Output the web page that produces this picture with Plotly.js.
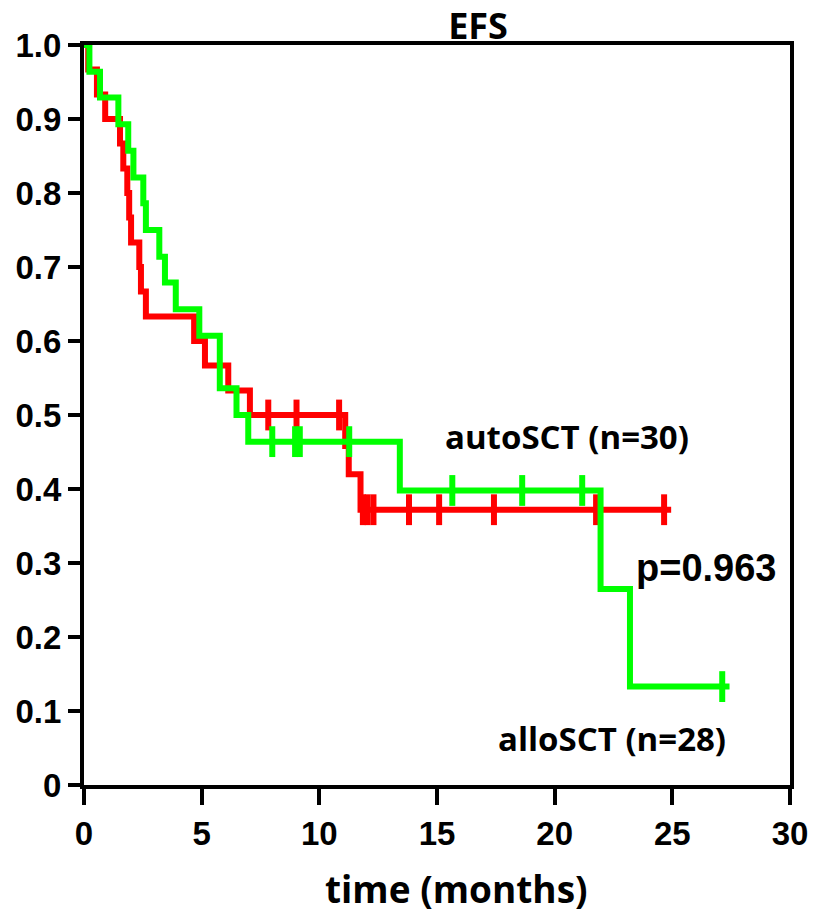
<!DOCTYPE html>
<html>
<head>
<meta charset="utf-8">
<script src="https://cdn.plot.ly/plotly-3.0.1.min.js"></script>
<style>
  html, body { margin: 0; padding: 0; background: #ffffff; }
  #chart { width: 813px; height: 916px; }
</style>
</head>
<body>
<div id="chart"></div>
<script>
// autoSCT (n=30) - red Kaplan-Meier curve
const autoTimes = [0, 0.18, 0.55, 0.9, 1.53, 1.67, 1.84, 1.92, 2.0, 2.35, 2.42, 2.63, 4.68, 5.14, 6.13, 7.05, 11.1, 11.25, 11.75, 24.95];
const autoSurv  = [1.0, 0.967, 0.933, 0.9, 0.867, 0.833, 0.8, 0.767, 0.733, 0.7, 0.667, 0.633, 0.6, 0.567, 0.533, 0.5, 0.458, 0.42, 0.372, 0.372];
const autoCensor = [7.83, 9.03, 10.84, 11.85, 12.05, 12.3, 13.81, 15.09, 17.42, 21.76, 24.65];

// alloSCT (n=28) - green Kaplan-Meier curve
const alloTimes = [0, 0.23, 0.68, 1.46, 1.88, 2.1, 2.52, 2.63, 3.2, 3.44, 3.9, 4.9, 5.77, 6.48, 6.98, 13.42, 21.95, 23.2, 27.43];
const alloSurv  = [1.0, 0.964, 0.929, 0.893, 0.857, 0.821, 0.786, 0.75, 0.714, 0.679, 0.643, 0.607, 0.536, 0.5, 0.464, 0.398, 0.265, 0.133, 0.133];
const alloCensor = [8.0, 8.97, 9.17, 11.27, 15.65, 18.62, 21.17, 27.12];

// axis ticks
const xTickVals = [0, 5, 10, 15, 20, 25, 30];
const yTickVals = [0, 0.1, 0.2, 0.3, 0.4, 0.5, 0.6, 0.7, 0.8, 0.9, 1.0];
const yTickText = ['0', '0.1', '0.2', '0.3', '0.4', '0.5', '0.6', '0.7', '0.8', '0.9', '1.0'];

function survAt(times, surv, t) {
  let s = surv[0];
  for (let i = 0; i < times.length; i++) { if (times[i] <= t) s = surv[i]; }
  return s;
}

const RED = '#ff0000', GREEN = '#00ff00';
const calibri = 'Open Sans, Lato, sans-serif';
const arial = 'Liberation Sans, Arial, sans-serif';

const traces = [
  { x: autoTimes, y: autoSurv, mode: 'lines', line: { shape: 'hv', color: RED, width: 6 }, hoverinfo: 'skip', showlegend: false },
  { x: autoCensor, y: autoCensor.map(t => survAt(autoTimes, autoSurv, t)), mode: 'markers',
    marker: { symbol: 'line-ns', size: 22, color: RED, line: { color: RED, width: 6 } }, cliponaxis: false, showlegend: false },
  { x: alloTimes, y: alloSurv, mode: 'lines', line: { shape: 'hv', color: GREEN, width: 6 }, hoverinfo: 'skip', showlegend: false },
  { x: alloCensor, y: alloCensor.map(t => survAt(alloTimes, alloSurv, t)), mode: 'markers',
    marker: { symbol: 'line-ns', size: 22, color: GREEN, line: { color: GREEN, width: 6 } }, cliponaxis: false, showlegend: false }
];

const layout = {
  width: 813, height: 916,
  paper_bgcolor: '#ffffff', plot_bgcolor: '#ffffff',
  margin: { l: 84, r: 23, t: 45, b: 131, pad: 0 },
  showlegend: false,
  title: { text: 'EFS', x: 478 / 813, xanchor: 'center', y: 1 - 26 / 916, yanchor: 'middle',
           font: { family: calibri, size: 36, weight: 'bold', color: '#000' } },
  xaxis: {
    range: [0, 30], tickvals: xTickVals, ticktext: xTickVals.map(String),
    showgrid: false, zeroline: false, showline: true, linewidth: 4, linecolor: '#000', mirror: true,
    ticks: 'outside', ticklen: 16, tickwidth: 4, tickcolor: '#000',
    tickfont: { family: arial, size: 33, weight: 'bold', color: '#000' },
    fixedrange: true
  },
  yaxis: {
    range: [0, 1], tickvals: yTickVals, ticktext: yTickText,
    showgrid: false, zeroline: false, showline: true, linewidth: 4, linecolor: '#000', mirror: true,
    ticks: 'outside', ticklen: 12, tickwidth: 4, tickcolor: '#000',
    tickfont: { family: arial, size: 33, weight: 'bold', color: '#000' },
    fixedrange: true
  },
  annotations: [
    { text: 'time (months)', xref: 'paper', yref: 'paper', x: (456 - 84) / 706, y: (785 - 889) / 740,
      xanchor: 'center', yanchor: 'middle', showarrow: false, font: { family: calibri, size: 37, weight: 'bold', color: '#000' } },
    { text: 'autoSCT (n=30)', xref: 'paper', yref: 'paper', x: (567 - 84) / 706, y: (785 - 437) / 740,
      xanchor: 'center', yanchor: 'middle', showarrow: false, font: { family: calibri, size: 33, weight: 'bold', color: '#000' } },
    { text: 'alloSCT (n=28)', xref: 'paper', yref: 'paper', x: (612 - 84) / 706, y: (785 - 738) / 740,
      xanchor: 'center', yanchor: 'middle', showarrow: false, font: { family: calibri, size: 33, weight: 'bold', color: '#000' } },
    { text: 'p=0.963', xref: 'paper', yref: 'paper', x: (706 - 84) / 706, y: (785 - 568) / 740,
      xanchor: 'center', yanchor: 'middle', showarrow: false, font: { family: arial, size: 38, weight: 'bold', color: '#000' } }
  ]
};

Plotly.newPlot('chart', traces, layout, { staticPlot: true, displayModeBar: false });
</script>
</body>
</html>
